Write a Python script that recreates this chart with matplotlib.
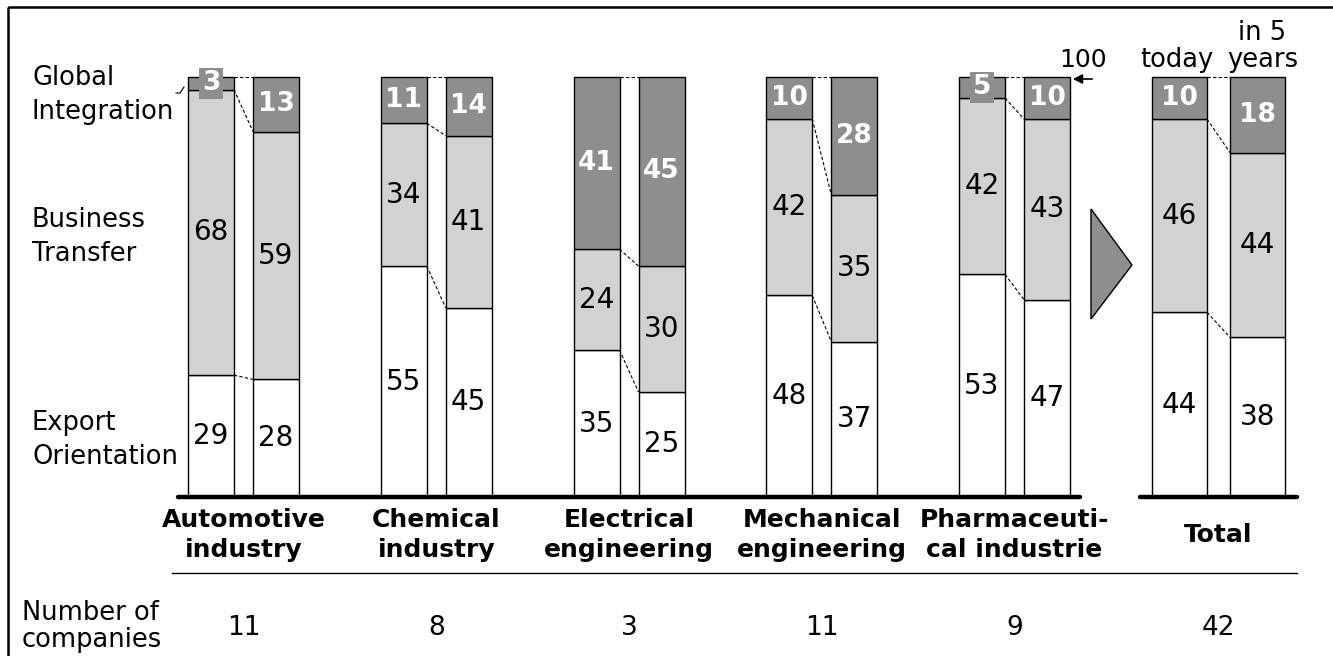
import numpy as np
import matplotlib.pyplot as plt
from matplotlib.patches import Polygon, Rectangle

# data: share of companies (%) per strategy, today vs. in 5 years
categories = ["Automotive\nindustry", "Chemical\nindustry", "Electrical\nengineering",
              "Mechanical\nengineering", "Pharmaceuti-\ncal industrie", "Total"]
export_today = [29, 55, 35, 48, 53, 44]
export_future = [28, 45, 25, 37, 47, 38]
transfer_today = [68, 34, 24, 42, 42, 46]
transfer_future = [59, 41, 30, 35, 43, 44]
integr_today = [3, 11, 41, 10, 5, 10]
integr_future = [13, 14, 45, 28, 10, 18]
n_companies = [11, 8, 3, 11, 9, 42]
row_labels = ["Global\nIntegration", "Business\nTransfer", "Export\nOrientation"]

DARK = "#8e8e8e"
LIGHT = "#d2d2d2"

plt.rcParams["font.family"] = ["DejaVu Sans"]

W, H = 1333, 656
fig = plt.figure(figsize=(W / 100, H / 100), dpi=100)

# pixel layout: bar zero at y=497, 100 % at y=77
BASE_PX, TOP_PX = 497, 77
ppu = (BASE_PX - TOP_PX) / 100
ytop = 100 + TOP_PX / ppu

ax = fig.add_axes([0, (H - BASE_PX) / H, 1, BASE_PX / H])
ax.set_xlim(0, W)
ax.set_ylim(0, ytop)
ax.axis("off")

centers = [243.5 + 192.75 * i for i in range(5)] + [1218.5]
offsets = [32.5] * 5 + [39]
widths = [46] * 5 + [55]
FS = 20

for i in range(len(categories)):
    c, off, w = centers[i], offsets[i], widths[i]
    pairs = [(c - off, export_today[i], transfer_today[i], integr_today[i]),
             (c + off, export_future[i], transfer_future[i], integr_future[i])]
    for x, eo, bt, gi in pairs:
        ax.bar(x, eo, w, bottom=0, color="white", edgecolor="black", lw=1.0)
        ax.bar(x, bt, w, bottom=eo, color=LIGHT, edgecolor="black", lw=1.0)
        ax.bar(x, gi, w, bottom=eo + bt, color=DARK, edgecolor="black", lw=1.0)
        ax.text(x, eo / 2, str(eo), ha="center", va="center", fontsize=FS)
        ax.text(x, eo + bt / 2, str(bt), ha="center", va="center", fontsize=FS)
        box = dict(boxstyle="square,pad=0.1", fc=DARK, ec="none") if gi < 8 else None
        ax.text(x, eo + bt + gi / 2, str(gi), ha="center", va="center", fontsize=FS - 1,
                fontweight="bold", color="white", bbox=box)
    # dashed connectors between the two bars
    (x0, eo0, bt0, gi0), (x1, eo1, bt1, gi1) = pairs
    for ya, yb in [(eo0 + bt0 + gi0, eo1 + bt1 + gi1), (eo0 + bt0, eo1 + bt1), (eo0, eo1)]:
        ax.plot([x0 + w / 2, x1 - w / 2], [ya, yb], color="black", lw=0.8,
                ls=(0, (3, 2)), zorder=3)

# overlay in pixel coordinates for annotations
ov = fig.add_axes([0, 0, 1, 1])
ov.set_xlim(0, W)
ov.set_ylim(H, 0)
ov.axis("off")

ov.add_patch(Rectangle((8, 7), W + 20, H + 20, fill=False, ec="black", lw=1.8))

def lines(x, baselines, label, **kw):
    for y, part in zip(baselines, label.split("\n")):
        ov.text(x, y, part, va="baseline", **kw)

for lab, y0 in zip(row_labels, [85, 227, 430]):
    lines(32, [y0, y0 + 34], lab, ha="left", fontsize=18.5)

ov.plot([176, 180, 184], [93, 93, 87], color="black", lw=0.8)

ov.plot([178, 1080], [BASE_PX, BASE_PX], color="black", lw=3.2, solid_capstyle="round")
ov.plot([1140, 1297], [BASE_PX, BASE_PX], color="black", lw=3.2, solid_capstyle="round")
ov.plot([172, 1297], [573, 573], color="black", lw=1.0)

for c, lab in zip(centers, categories):
    bl = [542] if "\n" not in lab else [527, 557]
    lines(c, bl, lab, ha="center", fontweight="bold", fontsize=18)

lines(22, [620, 647], "Number of\ncompanies", ha="left", fontsize=18.5)
for c, n in zip(centers, n_companies):
    ov.text(c, 635, str(n), ha="center", va="baseline", fontsize=19)

ov.add_patch(Polygon([[1091, 209], [1132, 265], [1091, 319]], closed=True,
                     fc=DARK, ec="black", lw=1.0))

ov.annotate("", xy=(1070, 79), xytext=(1095, 79),
            arrowprops=dict(arrowstyle="-|>", color="black", lw=1.2, mutation_scale=14))
ov.text(1083, 67, "100", ha="center", va="baseline", fontsize=18)
ov.text(centers[5] - offsets[5] - 3, 67, "today", ha="center", va="baseline", fontsize=18.5)
lines(centers[5] + offsets[5] + 5, [40, 67], "in 5\nyears", ha="center", fontsize=18.5)

fig.savefig("out.png", dpi=100)
